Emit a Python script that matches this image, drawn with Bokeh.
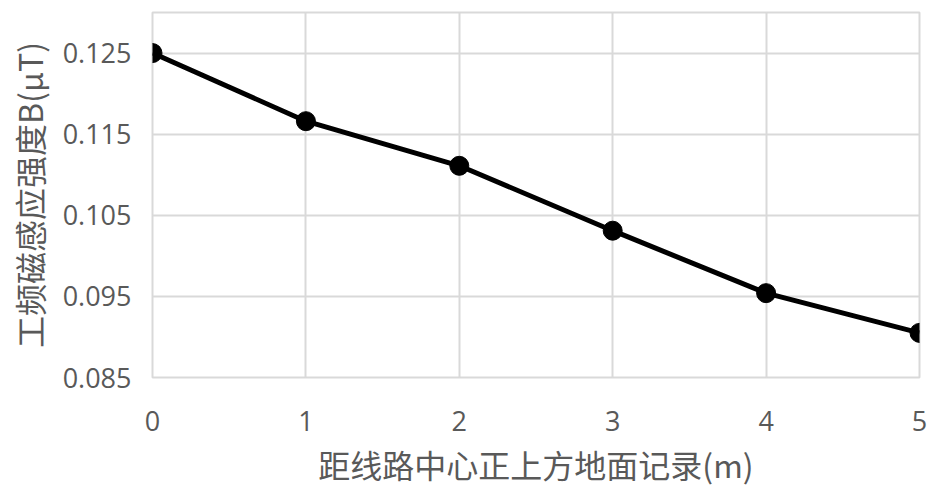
from bokeh.plotting import figure
from bokeh.models import FixedTicker, Range1d
from bokeh.embed import file_html
from bokeh.resources import INLINE

distance = [0, 1, 2, 3, 4, 5]
field_b = [0.1250, 0.1166, 0.1111, 0.1031, 0.0954, 0.0905]
y_ticks = [0.085, 0.095, 0.105, 0.115, 0.125]
y_tick_labels = ["0.085", "0.095", "0.105", "0.115", "0.125"]
x_title = "距线路中心正上方地面记录(m)"
y_title = "工频磁感应强度B(μT)"

p = figure(width=927, height=489, output_backend="svg", toolbar_location=None,
           x_range=Range1d(0, 5), y_range=Range1d(0.085, 0.130))
p.min_border_left = 152
p.min_border_right = 8
p.min_border_top = 12
p.min_border_bottom = 112
p.outline_line_color = "#d9d9d9"
p.outline_line_width = 2
p.background_fill_color = "white"
p.border_fill_color = "white"

p.line(distance, field_b, line_color="black", line_width=5)
p.scatter(distance, field_b, size=19, fill_color="black", line_color="black")

p.xaxis.ticker = FixedTicker(ticks=distance)
p.yaxis.ticker = FixedTicker(ticks=y_ticks)
p.yaxis.major_label_overrides = {t: l for t, l in zip(y_ticks, y_tick_labels)}

for ax in (p.xaxis[0], p.yaxis[0]):
    ax.axis_line_color = None
    ax.major_tick_line_color = None
    ax.minor_tick_line_color = None
    ax.major_tick_out = 0
    ax.major_tick_in = 0
    ax.major_label_text_font = "Open Sans"
    ax.major_label_text_font_size = "27px"
    ax.major_label_text_color = "#595959"
    ax.axis_label_text_font = "Noto Sans CJK SC"
    ax.axis_label_text_font_size = "32px"
    ax.axis_label_text_font_style = "normal"
    ax.axis_label_text_color = "#595959"

p.xaxis.axis_label = x_title
p.yaxis.axis_label = y_title
p.xaxis.major_label_standoff = 33
p.yaxis.major_label_standoff = 21
p.xaxis.axis_label_standoff = 7
p.yaxis.axis_label_standoff = 8

p.xgrid.ticker = FixedTicker(ticks=distance)
p.ygrid.ticker = FixedTicker(ticks=y_ticks)
p.xgrid.grid_line_color = "#d9d9d9"
p.ygrid.grid_line_color = "#d9d9d9"
p.xgrid.grid_line_width = 2
p.ygrid.grid_line_width = 2

open("out.html", "w").write(file_html(p, INLINE))
